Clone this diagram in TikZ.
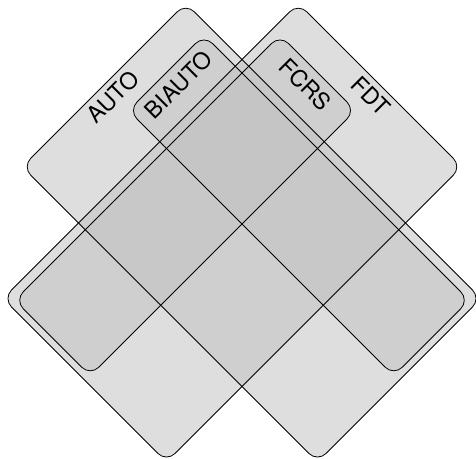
\documentclass[tikz,border=0pt]{standalone}
\usepackage{fontspec}
\setmainfont{TeX Gyre Heros}
\definecolor{setgray}{RGB}{195,195,195}
\begin{document}
\begin{tikzpicture}[x=1pt,y=-1pt,
  setfill/.style={fill=setgray, fill opacity=0.55, rounded corners=12pt},
  setline/.style={draw=black, line width=0.8pt, rounded corners=12pt},
  setlabel/.style={font=\fontsize{23}{27}\selectfont, inner sep=0pt}]
\fill[white] (0,0) rectangle (476,458);
\useasboundingbox (0,0) rectangle (476,458);
% AUTO
\coordinate (aT) at (185.75,3.25);
\coordinate (aR) at (481,298.5);
\coordinate (aB) at (317.5,462);
\coordinate (aL) at (22.25,166.75);
% FDT
\coordinate (fT) at (298.25,3.25);
\coordinate (fR) at (461.75,166.75);
\coordinate (fB) at (166.5,462);
\coordinate (fL) at (3,298.5);
% BIAUTO
\coordinate (bT) at (204,35);
\coordinate (bR) at (469.25,300.25);
\coordinate (bB) at (393.75,375.75);
\coordinate (bL) at (128.5,110.5);
% FCRS
\coordinate (cT) at (280,35);
\coordinate (cR) at (355.5,110.5);
\coordinate (cB) at (90.25,375.75);
\coordinate (cL) at (14.75,300.25);
% fills
\fill[setfill] (aT) -- (aR) -- (aB) -- (aL) -- cycle;
\fill[setfill] (fT) -- (fR) -- (fB) -- (fL) -- cycle;
\fill[setfill] (bT) -- (bR) -- (bB) -- (bL) -- cycle;
\fill[setfill] (cT) -- (cR) -- (cB) -- (cL) -- cycle;
% outlines
\draw[setline] (aT) -- (aR) -- (aB) -- (aL) -- cycle;
\draw[setline] (fT) -- (fR) -- (fB) -- (fL) -- cycle;
\draw[setline] (bT) -- (bR) -- (bB) -- (bL) -- cycle;
\draw[setline] (cT) -- (cR) -- (cB) -- (cL) -- cycle;
% labels
\node[setlabel, rotate=45] (lauto) at (113,96.5) {AUTO};
\node[setlabel, rotate=45] (lbiauto) at (178.5,84.5) {BIAUTO};
\node[setlabel, rotate=-45] (lfcrs) at (305.5,84.5) {FCRS};
\node[setlabel, rotate=-45] (lfdt) at (371,96.5) {FDT};
\end{tikzpicture}
\end{document}
